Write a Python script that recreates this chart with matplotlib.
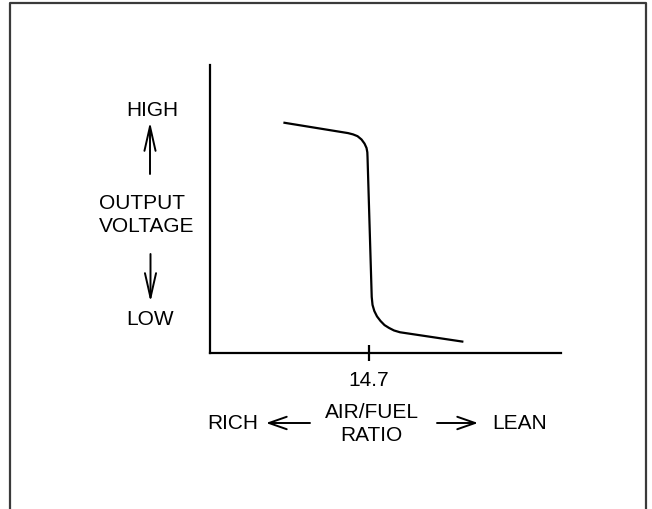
import matplotlib.pyplot as plt
from matplotlib.lines import Line2D

plt.rcParams['font.family'] = ['Liberation Sans', 'DejaVu Sans']

# sensor curve: air/fuel ratio vs output voltage (V)
afr = [12.56, 14.175, 14.30, 14.413, 14.513, 14.588, 14.638, 14.658, 14.663,
       14.768, 14.788, 14.833, 14.90, 14.988, 15.088, 15.20, 15.325, 15.475, 17.06]
volts = [0.90, 0.859, 0.854, 0.847, 0.834, 0.818, 0.801, 0.784, 0.766,
         0.219, 0.188, 0.164, 0.143, 0.125, 0.109, 0.098, 0.088, 0.081, 0.044]
stoich = 14.7
tick_labels = ['14.7']

W, H = 652, 510
fig = plt.figure(figsize=(W / 100, H / 100), dpi=100)

# overlay in pixel coords for the frame and free text
ov = fig.add_axes([0, 0, 1, 1])
ov.set_xlim(0, W)
ov.set_ylim(H, 0)
ov.axis('off')

frame_col = '#3a3a3a'
ov.add_line(Line2D([10, 10, 645.5, 645.5], [520, 4, 4, 520], color=frame_col, lw=1.6))

# main chart
ax = fig.add_axes([210 / W, (H - 354) / H, (561 - 210) / W, (354 - 66) / H])
ax.plot(afr, volts, color='black', lw=1.6, solid_capstyle='butt', solid_joinstyle='round')
ax.set_xlim(10.725, 19.5)
ax.set_ylim(0, 1.125)
for s in ['top', 'right']:
    ax.spines[s].set_visible(False)
for s in ['left', 'bottom']:
    ax.spines[s].set_linewidth(1.6)
    ax.spines[s].set_color('black')
ax.set_yticks([])
ax.set_xticks([stoich])
ax.set_xticklabels(tick_labels, fontsize=15)
ax.tick_params(axis='x', direction='inout', length=12, width=1.6, pad=6)
ax.patch.set_alpha(0)

fs = 15
ov.text(152.5, 110, 'HIGH', fontsize=fs, ha='center', va='center')
ov.text(99, 215, 'OUTPUT\nVOLTAGE', fontsize=fs, ha='left', va='center',
        multialignment='left', linespacing=1.3)
ov.text(150, 320, 'LOW', fontsize=fs, ha='center', va='center')
ov.text(233, 424, 'RICH', fontsize=fs, ha='center', va='center')
ov.text(371.5, 424, 'AIR/FUEL\nRATIO', fontsize=fs, ha='center', va='center',
        multialignment='center', linespacing=1.3)
ov.text(520, 424, 'LEAN', fontsize=fs, ha='center', va='center')

arw_v = dict(arrowstyle='->,head_length=1.1,head_width=0.25', color='black',
             lw=1.4, shrinkA=0, shrinkB=0, mutation_scale=16)
arw_h = dict(arrowstyle='->,head_length=0.8,head_width=0.28', color='black',
             lw=1.4, shrinkA=0, shrinkB=0, mutation_scale=16)
ov.annotate('', xy=(150, 123), xytext=(150, 175), arrowprops=arw_v)
ov.annotate('', xy=(150.5, 303), xytext=(150.5, 255), arrowprops=arw_v)
ov.annotate('', xy=(266, 424), xytext=(310, 424), arrowprops=arw_h)
ov.annotate('', xy=(478, 424), xytext=(437, 424), arrowprops=arw_h)

fig.savefig('out.png', dpi=100)
